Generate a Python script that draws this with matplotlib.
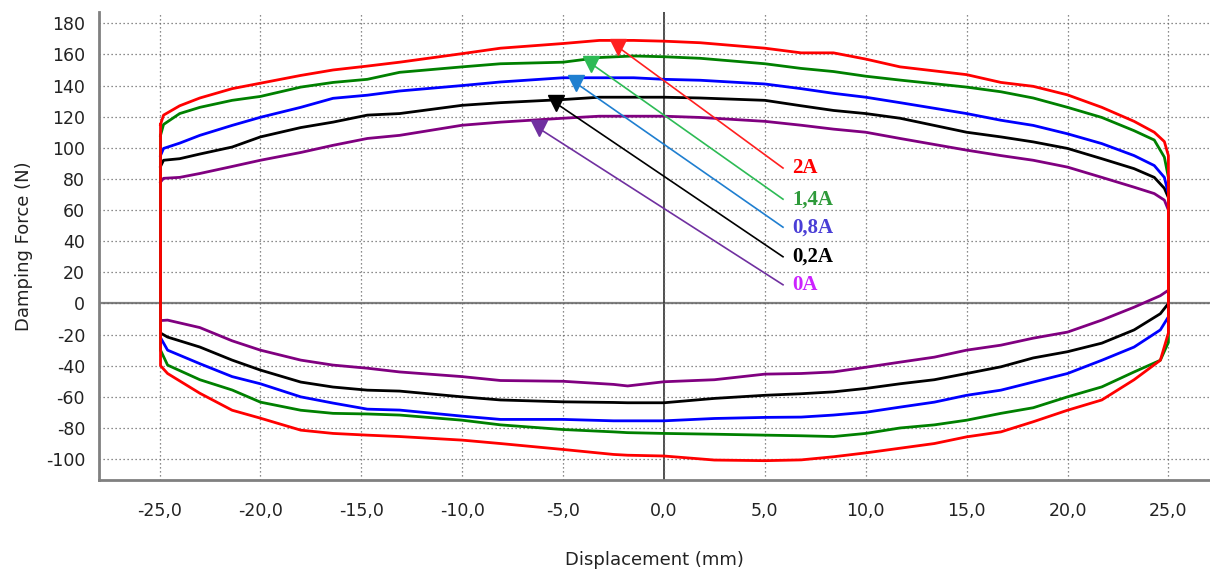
import numpy as np
import matplotlib.pyplot as plt

# Upper branch (compression) x positions, mm
X_UP = [-24.95, -24.8, -24.0, -23.0, -21.4, -20.0, -18.0, -16.4, -14.7, -13.1,
        -10.0, -8.1, -5.0, -3.2, -1.5, 0.0, 1.8, 5.0, 6.8, 8.4,
        10.0, 11.7, 15.0, 16.7, 18.3, 20.0, 21.7, 23.3, 24.3, 24.8, 25.0]
# Lower branch (rebound) x positions, mm
X_LO = [25.0, 24.6, 23.3, 21.7, 20.0, 18.3, 16.7, 15.0, 13.4, 11.7,
        10.0, 8.4, 6.8, 5.0, 2.5, 0.0, -1.8, -2.5, -5.0, -8.1,
        -10.0, -13.1, -14.7, -16.4, -18.0, -20.0, -21.4, -23.0, -24.6, -24.95]

red_up = [115, 121, 127, 132, 138, 141.5, 146.5, 150, 152.5, 155,
          160.5, 164, 167, 169, 169, 168.5, 167.5, 164, 161, 161,
          157, 152, 147, 142, 139.5, 134, 126, 117, 110, 104, 95]
red_lo = [-19, -36.5, -49, -62, -68.6, -76, -82.5, -85.7, -90, -93,
          -96, -98.5, -100.5, -101, -100.6, -98, -97.5, -97, -93.8, -90,
          -87.8, -85.5, -84.6, -83.5, -81.4, -73.7, -68.6, -57.7, -45, -40]

green_up = [108, 115, 122, 126, 130.5, 133, 139, 142, 144, 148.5,
            152, 154, 155, 158, 159, 158.5, 157.5, 154, 151, 149,
            146, 143.5, 139, 136, 132, 126, 119.5, 111, 105, 94, 81]
green_lo = [-25, -36.5, -44, -53.6, -60, -67, -70.6, -75, -78, -80,
            -83.5, -85.5, -85, -84.6, -84, -83.5, -83, -82.5, -81, -78,
            -75, -71.7, -71, -70.6, -68.6, -63.4, -55.6, -49, -39.6, -30]

blue_up = [95, 99.6, 103, 108, 114.4, 119.6, 126, 131.8, 133.8, 136.5,
           140, 142.3, 145, 145, 145, 144, 143.4, 141, 138, 135,
           132.5, 129, 122, 117.7, 114.4, 109, 102.7, 95, 88.6, 81, 70.6]
blue_lo = [-8.6, -17, -28, -36.5, -45, -50.5, -55.7, -59, -63.4, -66.6,
           -69.9, -71.7, -73, -73.2, -73.9, -75.4, -75.4, -75.4, -74.5, -74.5,
           -72.4, -68.5, -67.9, -64, -60, -51.6, -47, -38.7, -30, -22]

black_up = [88, 92, 93, 96, 100.5, 107, 113, 116.5, 121, 122,
            127.3, 129, 131, 132.5, 132.5, 132.5, 132, 130.5, 127, 124,
            122, 119, 110, 107, 103.8, 99.6, 93, 86.6, 81, 74, 68]
black_lo = [0, -6.6, -17, -25.5, -31, -35, -40.7, -45, -49, -51.6,
            -54.6, -56.8, -58, -59, -61, -63.8, -63.8, -63.6, -63.2, -62,
            -60, -56.3, -55.7, -53.7, -50.5, -42.8, -36.4, -28, -21.6, -19]

purple_up = [78, 80.4, 81, 83.5, 88, 92, 97, 101.6, 106, 108,
             114.5, 116.5, 119, 120.3, 120.3, 120.3, 119.5, 117, 114.5, 112,
             110, 106, 98.5, 95, 92, 87.6, 81, 74.7, 70.6, 66.4, 60]
purple_lo = [8.5, 5, -2.4, -10.7, -18.4, -22.3, -26.8, -30, -34.5, -37.7,
             -41, -44, -45, -45.4, -49, -50.3, -53, -52, -50, -49.5,
             -47, -44, -41.6, -39.6, -36.4, -30, -24, -15.5, -10.7, -11]

CURVES = [
    (purple_up, purple_lo, '#800080'),
    (black_up, black_lo, '#000000'),
    (blue_up, blue_lo, '#0000ff'),
    (green_up, green_lo, '#008000'),
    (red_up, red_lo, '#ff0000'),
]

# annotation labels: text, arrow-head point, text anchor
LABELS = ['2A', '1,4A', '0,8A', '0,2A', '0A']
LABEL_COLORS = ['#ff0000', '#2e9a3a', '#4a3ed6', '#000000', '#cc22ff']
ARROW_COLORS = ['#ff2020', '#2dbb55', '#1f7fd0', '#000000', '#7030a0']
TIP_X = [-2.3, -3.6, -4.35, -5.35, -6.2]
TIP_Y = [165, 154, 141.5, 128.6, 112.5]
TEXT_X = 5.9
TEXT_Y = [87, 67, 49, 30, 12]

X_TICKS = [-25, -20, -15, -10, -5, 0, 5, 10, 15, 20, 25]
X_TICKLABELS = ['-25,0', '-20,0', '-15,0', '-10,0', '-5,0', '0,0',
                '5,0', '10,0', '15,0', '20,0', '25,0']
Y_TICKS = list(range(-100, 181, 20))

fig = plt.figure(figsize=(12.1, 5.75), dpi=100)
ax = fig.add_axes([0.0818, 0.165, 0.918, 0.814])

ax.set_xlim(-28.0, 27.05)
ax.set_ylim(-113.5, 187.2)

ax.grid(True, linestyle=(0, (1.0, 2.2)), color='#666666', linewidth=0.9)
ax.axhline(0, color='#808080', linewidth=1.6, zorder=1)
ax.axvline(0, color='#303030', linewidth=1.2, zorder=1)

for up, lo, c in CURVES:
    xs = np.concatenate([X_UP, X_LO, X_UP[:1]])
    ys = np.concatenate([up, lo, up[:1]])
    ax.plot(xs, ys, color=c, linewidth=2.0, zorder=3)

for lab, lc, ac, tx, ty, y in zip(LABELS, LABEL_COLORS, ARROW_COLORS, TIP_X, TIP_Y, TEXT_Y):
    ax.plot([tx, TEXT_X], [ty, y], color=ac, linewidth=1.2, zorder=4)
    ax.plot(tx, ty, marker='v', markersize=11, color=ac, zorder=5)
    ax.text(TEXT_X + 0.45, y, lab, color=lc, fontsize=15, fontweight='bold',
            family='Liberation Serif', va='center', ha='left', zorder=5)

ax.set_xticks(X_TICKS)
ax.set_xticklabels(X_TICKLABELS)
ax.set_yticks(Y_TICKS)
ax.set_yticklabels([str(v) for v in Y_TICKS])
ax.tick_params(axis='both', length=0, labelsize=12.5, colors='#222222')
ax.tick_params(axis='y', pad=10)
ax.tick_params(axis='x', pad=16)

for s in ['top', 'right']:
    ax.spines[s].set_visible(False)
for s in ['left', 'bottom']:
    ax.spines[s].set_color('#808080')
    ax.spines[s].set_linewidth(2)

ax.set_xlabel('Displacement (mm)', fontsize=13, color='#222222', labelpad=22)
ax.set_ylabel('Damping Force (N)', fontsize=13, color='#222222', labelpad=9)

fig.savefig('out.png', dpi=100)
